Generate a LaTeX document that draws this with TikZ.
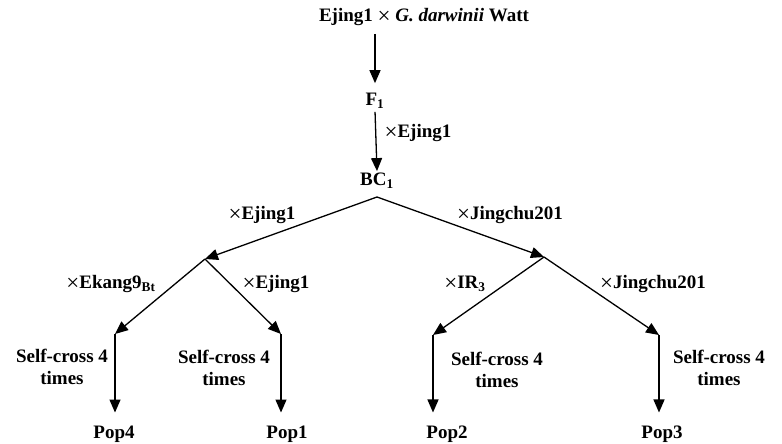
\documentclass[tikz,border=0pt]{standalone}
\usepackage{fontspec}
\setmainfont{Liberation Serif}
\usetikzlibrary{arrows.meta}
\newcommand\crossx{\raisebox{-1.6pt}{\mdseries\fontsize{23}{22.5}\selectfont ×}}
\begin{document}
\begin{tikzpicture}[x=1pt,y=-1pt,
  lbl/.style={font=\fontsize{19}{22.5}\selectfont\bfseries, inner sep=2pt, align=center},
  conn/.style={line width=1.3pt, -{Triangle[length=13pt,width=11pt]}}]
\useasboundingbox (0,0) rectangle (782,444);
% main nodes
\node[lbl] (top) at (424,17) {Ejing1 \crossx\ \textit{G. darwinii} Watt};
\node[lbl] (F1) at (375,101) {F\textsubscript{1}};
\node[lbl] (BC1) at (377,181) {BC\textsubscript{1}};
\coordinate (bc) at (377,197);
\coordinate (L) at (205,259);
\coordinate (R) at (544,257);
\coordinate (LL) at (115,334);
\coordinate (LR) at (281,334);
\coordinate (RL) at (433,335);
\coordinate (RR) at (659,335);
\node[lbl] (pop4) at (114,434) {Pop4};
\node[lbl] (pop1) at (287,434) {Pop1};
\node[lbl] (pop2) at (447,434) {Pop2};
\node[lbl] (pop3) at (662,434) {Pop3};
% labels
\node[lbl] (x1) at (418,133) {\crossx Ejing1};
\node[lbl] (x2) at (262,215) {\crossx Ejing1};
\node[lbl] (x3) at (510,215) {\crossx Jingchu201};
\node[lbl] (x4) at (111,284) {\crossx Ekang9\textsubscript{Bt}};
\node[lbl] (x5) at (276,284) {\crossx Ejing1};
\node[lbl] (x6) at (465,284) {\crossx IR\textsubscript{3}};
\node[lbl] (x7) at (653,284) {\crossx Jingchu201};
\node[lbl] (s4) at (62,367) {Self-cross 4\\times};
\node[lbl] (s1) at (224,368) {Self-cross 4\\times};
\node[lbl] (s2) at (497,370) {Self-cross 4\\times};
\node[lbl] (s3) at (719,368) {Self-cross 4\\times};
% connectors
\draw[conn, shorten <=6pt, shorten >=8pt] (F1 |- top.south) -- (F1.north);
\draw[conn, shorten <=1pt] (F1.south) -- (BC1.north);
\draw[conn] (bc) -- (L);
\draw[conn] (bc) -- (R);
\draw[conn] (L) -- (LL);
\draw[conn] (L) -- (LR);
\draw[conn] (R) -- (RL);
\draw[conn] (R) -- (RR);
\draw[conn, shorten >=11pt] (LL) -- (LL |- pop4.north);
\draw[conn, shorten >=11pt] (LR) -- (LR |- pop1.north);
\draw[conn, shorten >=11pt] (RL) -- (RL |- pop2.north);
\draw[conn, shorten >=11pt] (RR) -- (RR |- pop3.north);
\end{tikzpicture}
\end{document}
